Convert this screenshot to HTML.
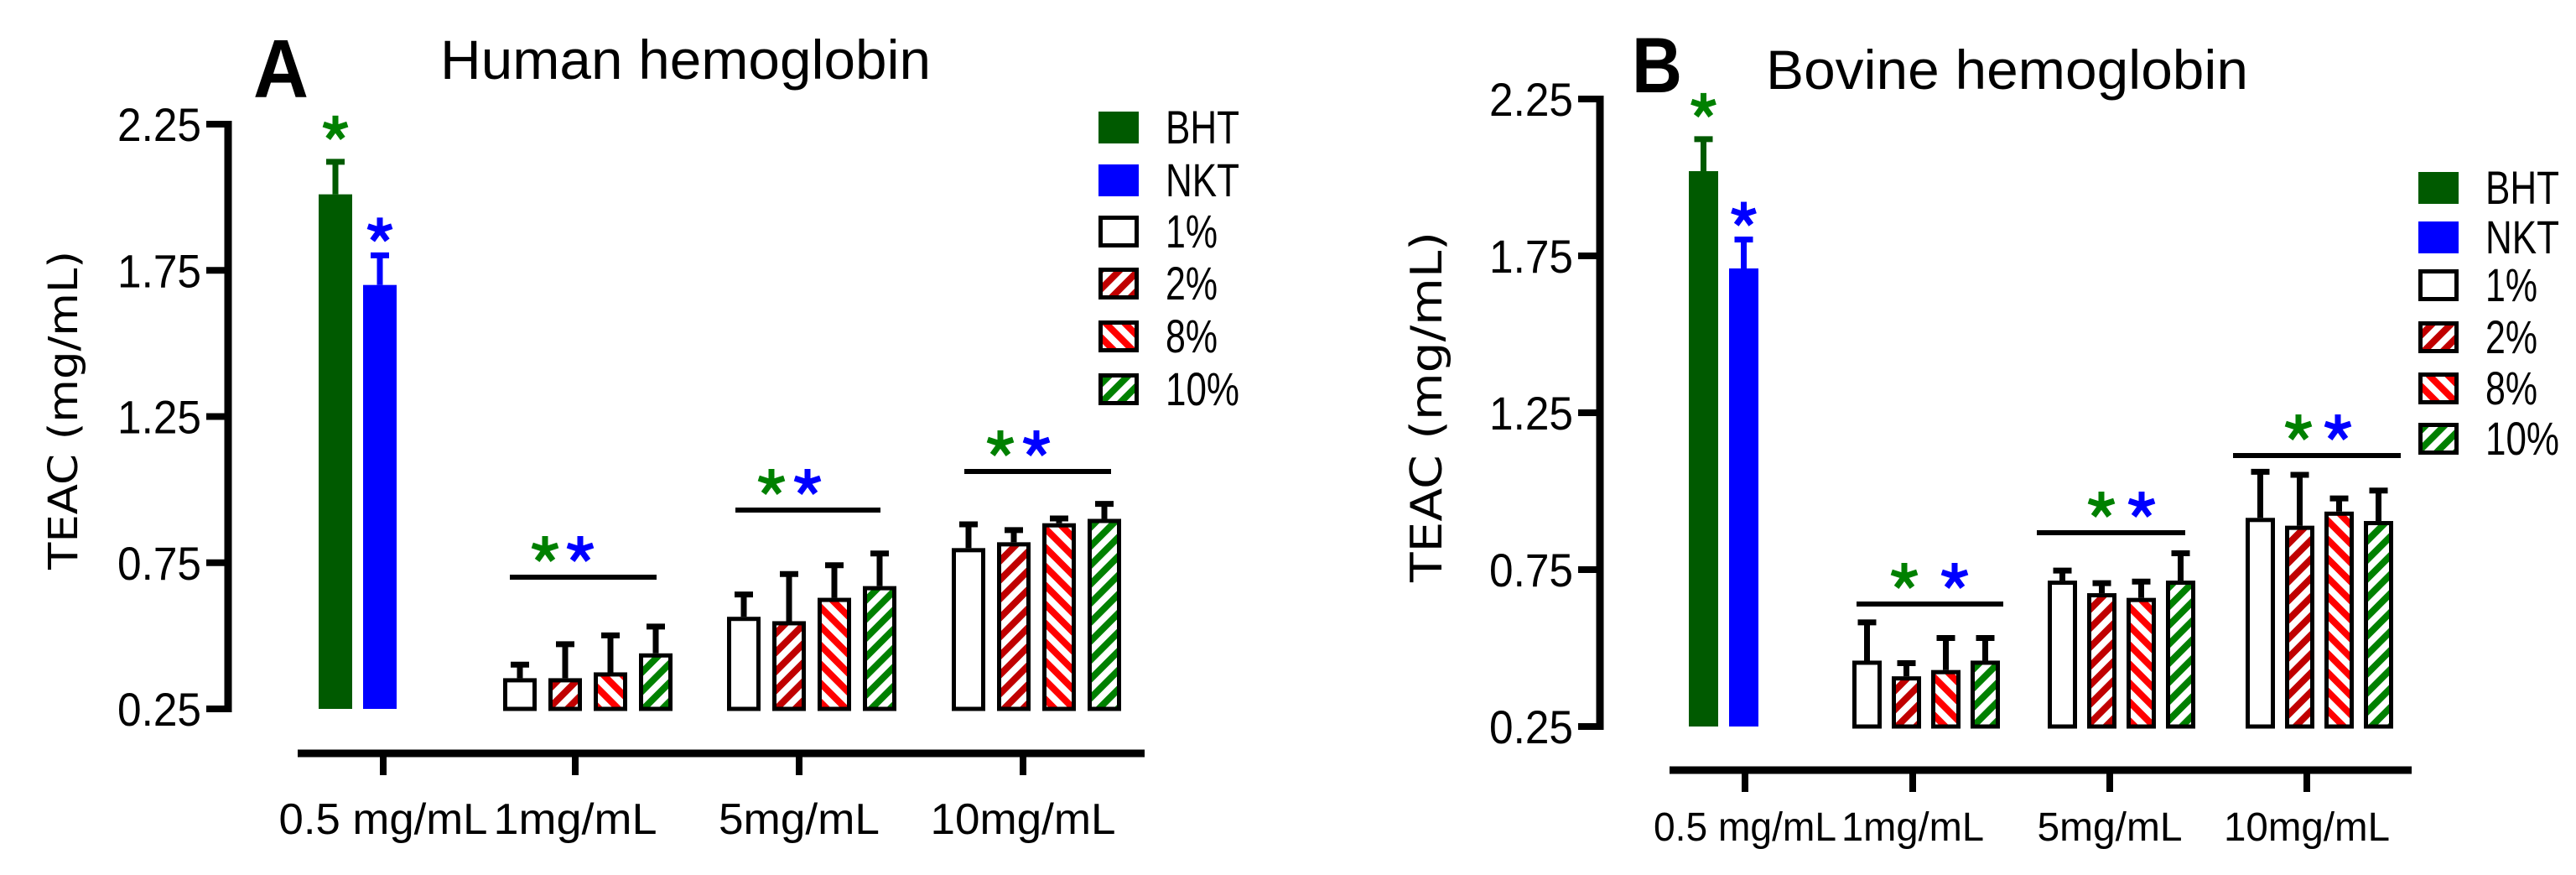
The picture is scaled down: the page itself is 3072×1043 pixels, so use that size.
<!DOCTYPE html>
<html><head><meta charset="utf-8"><style>
html,body{margin:0;padding:0;background:#fff;}
svg{display:block;}
.t{font-family:"Liberation Sans Narrow","Liberation Sans",sans-serif;}
.yt{font-family:"DejaVu Sans","Liberation Sans",sans-serif;}
.lt{font-family:"Liberation Sans",sans-serif;}
</style></head><body>
<svg id="c" width="3072" height="1043" viewBox="0 0 3072 1043" xmlns="http://www.w3.org/2000/svg">
<defs>
<pattern id="p2" patternUnits="userSpaceOnUse" width="16" height="16" patternTransform="rotate(45)"><rect width="16" height="16" fill="#fff"/><rect width="8" height="16" fill="#c00000"/></pattern>
<pattern id="p8" patternUnits="userSpaceOnUse" width="16" height="16" patternTransform="rotate(-45)"><rect width="16" height="16" fill="#fff"/><rect width="8" height="16" fill="#ff0000"/></pattern>
<pattern id="p10" patternUnits="userSpaceOnUse" width="16" height="16" patternTransform="rotate(45)"><rect width="16" height="16" fill="#fff"/><rect width="8" height="16" fill="#008000"/></pattern>
</defs>
</svg>
<script>
// ---- data ----
const groups = ["0.5 mg/mL","1mg/mL","5mg/mL","10mg/mL"];
const seriesNames = ["BHT","NKT","1%","2%","8%","10%"];
const yTicks = [0.25,0.75,1.25,1.75,2.25];
const yTickLabels = ["0.25","0.75","1.25","1.75","2.25"];
// Panel A (Human)
const humanStd = [2.01, 1.70];
const humanStdErr = [2.13, 1.81];
const human1 = [0.355, 0.565, 0.80];
const human2 = [0.355, 0.55, 0.82];
const human8 = [0.375, 0.63, 0.885];
const human10 = [0.44, 0.67, 0.90];
const human1Err = [0.41, 0.65, 0.89];
const human2Err = [0.48, 0.72, 0.87];
const human8Err = [0.51, 0.75, 0.91];
const human10Err = [0.54, 0.79, 0.96];
// Panel B (Bovine)
const bovineStd = [2.02, 1.71];
const bovineStdErr = [2.13, 1.81];
const bovine1 = [0.46, 0.715, 0.915];
const bovine2 = [0.41, 0.675, 0.89];
const bovine8 = [0.43, 0.66, 0.935];
const bovine10 = [0.46, 0.715, 0.905];
const bovine1Err = [0.59, 0.755, 1.07];
const bovine2Err = [0.46, 0.715, 1.06];
const bovine8Err = [0.54, 0.72, 0.985];
const bovine10Err = [0.54, 0.81, 1.01];

const NS="http://www.w3.org/2000/svg";
const svg=document.getElementById('c');
function mk(tag,attrs,parent){const e=document.createElementNS(NS,tag);for(const k in attrs)e.setAttribute(k,attrs[k]);(parent||svg).appendChild(e);return e;}
function txt(s,attrs,parent){const e=mk('text',attrs,parent);e.textContent=s;return e;}
function star(g,cx,cy,color,r){
  for(let i=0;i<5;i++){const a=(-90+i*72)*Math.PI/180;
    mk('line',{x1:cx,y1:cy,x2:cx+r*Math.cos(a),y2:cy+r*Math.sin(a),stroke:color,'stroke-width':7},g);}
}
const fills=["#005a00","#0000ff","#fff","url(#p2)","url(#p8)","url(#p10)"];

function panel(cfg){
  const g=mk('g',{});
  
  
  const y=v=>cfg.y0-(v-0.25)*(cfg.y0-cfg.y1)/2;
  const ax=mk('g',{},g);
  
  
  mk('line',{x1:cfg.ax,y1:y(2.25)-4,x2:cfg.ax,y2:y(0.25)+4,stroke:'#000','stroke-width':9},ax);
  yTicks.forEach((v,i)=>{
    mk('line',{x1:cfg.ax-26,y1:y(v),x2:cfg.ax,y2:y(v),stroke:'#000','stroke-width':8},ax);
    const t=txt(yTickLabels[i],{x:cfg.ax-32,y:y(v)+20,'text-anchor':'end','font-size':56,class:'t',textLength:100,lengthAdjust:'spacingAndGlyphs'},ax);
    
    
  });
  const yt=txt('TEAC (mg/mL)',{x:0,y:0,'text-anchor':'middle','font-size':cfg.ytFont,class:'yt',transform:`translate(${cfg.ytx},${cfg.yty}) rotate(-90)`,textLength:cfg.ytLen,lengthAdjust:'spacingAndGlyphs'},g);
  
  
  const xa=mk('g',{},g);
  
  
  mk('line',{x1:cfg.xax1,y1:cfg.xay,x2:cfg.xax2,y2:cfg.xay,stroke:'#000','stroke-width':9},xa);
  groups.forEach((name,i)=>{
    mk('line',{x1:cfg.xticks[i],y1:cfg.xay,x2:cfg.xticks[i],y2:cfg.xay+26,stroke:'#000','stroke-width':8},xa);
    const t=txt(name,{x:cfg.xticks[i],y:cfg.xly,'text-anchor':'middle','font-size':cfg.xlFont,class:'t',textLength:cfg.xlw[i],lengthAdjust:'spacingAndGlyphs'},xa);
    
    
  });
  const bw=cfg.bw;
  function bar(x,v,ev,fill,stroke,si){
    const b=mk('g',{},g);
    
    
    const top=y(v), bot=y(0.25);
    mk('line',{x1:x+bw/2,y1:y(ev),x2:x+bw/2,y2:top,stroke:stroke?'#000':fill,'stroke-width':7},b);
    mk('line',{x1:x+bw/2-11,y1:y(ev)+3,x2:x+bw/2+11,y2:y(ev)+3,stroke:stroke?'#000':fill,'stroke-width':7},b);
    if(stroke) mk('rect',{x:x+2.5,y:top+2.5,width:bw-5,height:bot-top-2.5,fill:fill,stroke:'#000','stroke-width':5},b);
    else mk('rect',{x:x,y:top,width:bw,height:bot-top,fill:fill},b);
  }
  bar(cfg.stdX[0],cfg.std[0],cfg.stdErr[0],fills[0],false,0);
  bar(cfg.stdX[1],cfg.std[1],cfg.stdErr[1],fills[1],false,1);
  const vals=[cfg.s1,cfg.s2,cfg.s8,cfg.s10], errs=[cfg.e1,cfg.e2,cfg.e8,cfg.e10];
  for(let gi=0;gi<3;gi++){
    for(let s=0;s<4;s++){
      bar(cfg.gx[gi]+s*cfg.step,vals[s][gi],errs[s][gi],fills[s+2],true,s+2);
    }
  }
  star(g,cfg.stdX[0]+bw/2,y(cfg.stdErr[0])-37,'#008000',15);
  star(g,cfg.stdX[1]+bw/2,y(cfg.stdErr[1])-27,'#0000ff',15);
  cfg.sig.forEach(s=>{
    const sg=mk('g',{},g);
    
    
    mk('line',{x1:s[0],y1:s[2],x2:s[1],y2:s[2],stroke:'#000','stroke-width':6},sg);
    star(sg,s[3],s[2]-33,'#008000',16);
    star(sg,s[4],s[2]-33,'#0000ff',16);
  });
  const pl=txt(cfg.letter,{x:cfg.lx,y:cfg.ly,'font-size':cfg.lFont,'font-weight':'bold',class:'lt',textLength:cfg.lw,lengthAdjust:'spacingAndGlyphs'},g);
  
  
  const ti=txt(cfg.title,{x:cfg.tx,y:cfg.ty,'font-size':66,class:'t',textLength:cfg.tw,lengthAdjust:'spacingAndGlyphs'},g);
  
  
  const lg=mk('g',{},g);
  
  
  seriesNames.forEach((n,i)=>{
    const cy=cfg.legY[i];
    const le=mk('g',{},lg);
    
    
    if(i<2) mk('rect',{x:cfg.legX,y:cy-19,width:48,height:38,fill:fills[i]},le);
    else mk('rect',{x:cfg.legX+2.5,y:cy-16.5,width:43,height:33,fill:fills[i],stroke:'#000','stroke-width':5},le);
    txt(n,{x:cfg.legX+80,y:cy+19,'font-size':56,class:'t',textLength:(n.length===3?88:62),lengthAdjust:'spacingAndGlyphs'},le);
  });
}

panel({name:'panel-a-human',y0:845,y1:148,ax:272,ytx:92,yty:489,ytFont:48,ytLen:380,
  xax1:355,xax2:1365,xay:898,xticks:[457,686,953,1220],xly:994,xlFont:52,xlw:[249,195,192,221],
  bw:40,step:54,stdX:[380,433],std:humanStd,stdErr:humanStdErr,gx:[600,867,1135],
  s1:human1,s2:human2,s8:human8,s10:human10,e1:human1Err,e2:human2Err,e8:human8Err,e10:human10Err,
  sig:[[608,783,688,650,692],[877,1050,608,920,963],[1150,1325,562,1193,1236]],
  letter:'A',lx:302,ly:116,lFont:98,lw:66,title:'Human hemoglobin',tx:525,ty:94,tw:585,
  legX:1310,legY:[152,215,276,338,401,464]});
panel({name:'panel-b-bovine',y0:866,y1:118,ax:1908,ytx:1719,yty:485,ytFont:52,ytLen:418,
  xax1:1991,xax2:2876,xay:918,xticks:[2081,2281,2516,2751],xly:1002,xlFont:48,xlw:[218,170,173,198],
  bw:35,step:47,stdX:[2014,2062],std:bovineStd,stdErr:bovineStdErr,gx:[2209,2442,2678],
  s1:bovine1,s2:bovine2,s8:bovine8,s10:bovine10,e1:bovine1Err,e2:bovine2Err,e8:bovine8Err,e10:bovine10Err,
  sig:[[2214,2389,720,2271,2331],[2429,2606,635,2506,2554],[2663,2863,543,2741,2788]],
  letter:'B',lx:1946,ly:110,lFont:94,lw:60,title:'Bovine hemoglobin',tx:2106,ty:106,tw:575,
  legX:2884,legY:[224,283,340,402,463,523]});
</script>
</body></html>
